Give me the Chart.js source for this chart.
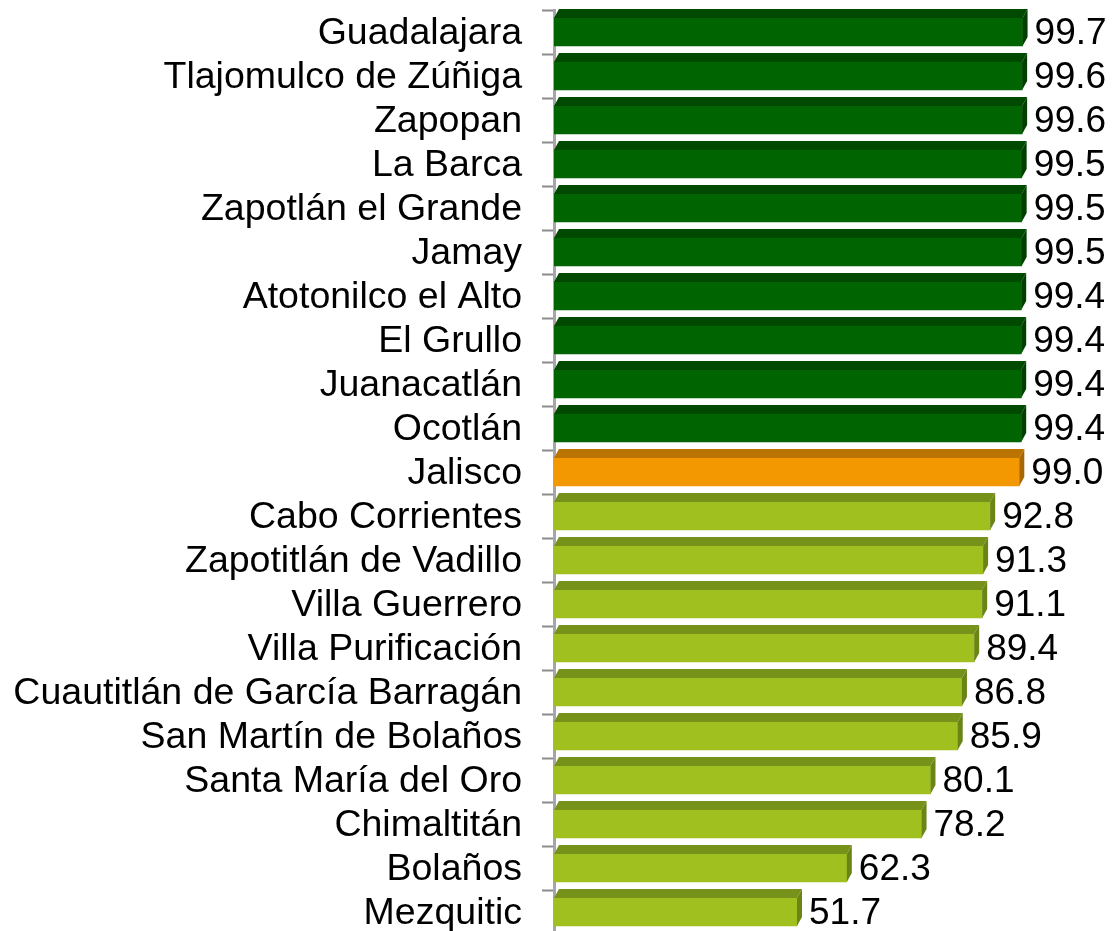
<!DOCTYPE html>
<html>
<head>
<meta charset="utf-8">
<script src="https://cdn.jsdelivr.net/npm/chart.js@4/dist/chart.umd.min.js"></script>
<style>
	html, body { margin: 0; padding: 0; background: #ffffff; overflow: hidden; }
	#wrap { position: relative; width: 1115px; height: 935px; }
</style>
</head>
<body>
<div id="wrap"><canvas id="bars"></canvas></div>
<script>
const municipios = ["Guadalajara", "Tlajomulco de Zúñiga", "Zapopan", "La Barca", "Zapotlán el Grande", "Jamay",
	"Atotonilco el Alto", "El Grullo", "Juanacatlán", "Ocotlán", "Jalisco", "Cabo Corrientes",
	"Zapotitlán de Vadillo", "Villa Guerrero", "Villa Purificación", "Cuautitlán de García Barragán",
	"San Martín de Bolaños", "Santa María del Oro", "Chimaltitán", "Bolaños", "Mezquitic"];
const porcentajes = [99.7, 99.6, 99.6, 99.5, 99.5, 99.5, 99.4, 99.4, 99.4, 99.4, 99.0,
	92.8, 91.3, 91.1, 89.4, 86.8, 85.9, 80.1, 78.2, 62.3, 51.7];
const grupo = ["alto", "alto", "alto", "alto", "alto", "alto", "alto", "alto", "alto", "alto", "estado",
	"bajo", "bajo", "bajo", "bajo", "bajo", "bajo", "bajo", "bajo", "bajo", "bajo"];

// front, top and side colours for each group
const colores = {
	alto: ["#006400", "#004a00", "#003f00"],
	estado: ["#f39800", "#bb7400", "#a86600"],
	bajo: ["#a0c01f", "#76921a", "#6a8516"]
};

const DX = 5, DY = 9;
const FUENTE = "'Liberation Sans', Arial, sans-serif";

// draws the top and side faces so each bar looks like a block
const bloques = {
	id: "bloques",
	afterDatasetsDraw(chart) {
		const ctx = chart.ctx;
		const meta = chart.getDatasetMeta(0);
		meta.data.forEach(function(bar, i) {
			const c = colores[grupo[i]];
			const top = bar.y - bar.height / 2;
			const bottom = bar.y + bar.height / 2;
			ctx.save();
			ctx.fillStyle = c[1];
			ctx.beginPath();
			ctx.moveTo(bar.base, top);
			ctx.lineTo(bar.x, top);
			ctx.lineTo(bar.x + DX, top - DY);
			ctx.lineTo(bar.base + DX, top - DY);
			ctx.closePath();
			ctx.fill();
			ctx.fillStyle = c[2];
			ctx.beginPath();
			ctx.moveTo(bar.x, top);
			ctx.lineTo(bar.x + DX, top - DY);
			ctx.lineTo(bar.x + DX, bottom - DY);
			ctx.lineTo(bar.x, bottom);
			ctx.closePath();
			ctx.fill();

			ctx.fillStyle = "#000000";
			ctx.font = "37px " + FUENTE;
			ctx.textAlign = "left";
			ctx.textBaseline = "middle";
			ctx.fillText(porcentajes[i].toFixed(1), bar.x + DX + 7, bar.y + 2);
			ctx.restore();
		});
	}
};

const canvas = document.getElementById("bars");
const chart = new Chart(canvas.getContext("2d"), {
	type: "bar",
	data: {
		labels: municipios,
		datasets: [{
			data: porcentajes,
			backgroundColor: grupo.map(g => colores[g][0]),
			borderWidth: 0,
			barThickness: 28
		}]
	},
	options: {
		indexAxis: "y",
		responsive: true,
		maintainAspectRatio: false,
		animation: false,
		layout: {
			padding: { top: 10, right: 91, bottom: 1, left: 0 }
		},
		scales: {
			x: {
				display: false,
				min: 0,
				max: 100
			},
			y: {
				afterFit(scale) {
					scale.width = 554;
					scale.paddingTop = 0;
					scale.paddingBottom = 0;
				},
				border: { color: "#a6a6a6", width: 3 },
				grid: {
					offset: true,
					drawOnChartArea: false,
					drawTicks: true,
					tickLength: 12,
					tickColor: "#8c8c8c",
					tickWidth: 2
				},
				ticks: {
					color: "#000000",
					padding: 20,
					labelOffset: 2,
					autoSkip: false,
					font: { family: FUENTE, size: 37.5 }
				}
			}
		},
		plugins: {
			legend: { display: false },
			tooltip: { enabled: false }
		}
	},
	plugins: [bloques]
});
</script>
</body>
</html>
